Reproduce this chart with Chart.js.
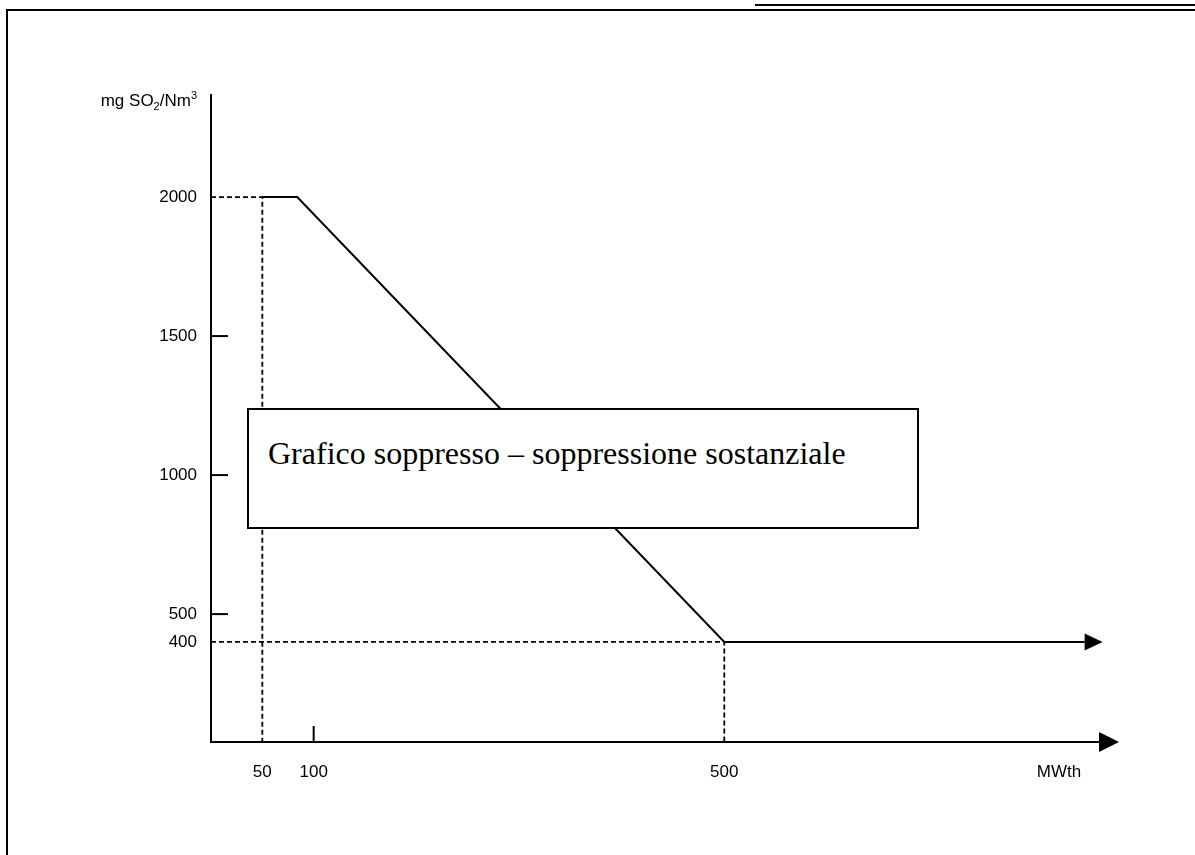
<!DOCTYPE html>
<html>
<head>
<meta charset="utf-8">
<script src="https://cdn.jsdelivr.net/npm/chart.js@4/dist/chart.umd.min.js"></script>
<style>
    html, body { margin: 0; padding: 0; background: #fff; }
    #wrap { position: relative; width: 1195px; height: 855px; overflow: hidden; }
    #chart { position: absolute; left: 0; top: 0; }
    .rule { position: absolute; background: #000; }
    #mask {
        position: absolute; left: 247px; top: 408px; width: 672px; height: 121px;
        box-sizing: border-box; border: 2px solid #000; background: #fff;
    }
    #mask span {
        position: absolute; left: 19px; top: 27px; white-space: nowrap;
        font-family: 'Liberation Serif', 'Times New Roman', serif; font-size: 32px; line-height: 32px; color: #000;
    }
</style>
</head>
<body>
<div id="wrap">
    <canvas id="chart" width="1195" height="855"></canvas>
    <div class="rule" style="left:6px; top:9px; width:2px; height:846px"></div>
    <div class="rule" style="left:6px; top:9px; width:1189px; height:2px"></div>
    <div class="rule" style="left:755px; top:4px; width:440px; height:2px"></div>
    <div id="mask"><span>Grafico soppresso – soppressione sostanziale</span></div>
</div>
<script>
// MWth -> mg SO2/Nm3
const limitX = [50, 84, 500, 851]
const limitY = [2000, 2000, 400, 400]

// dashed guide lines: capacity / level pairs
const guideCapacity = [50, 500]
const guideLevel = [2000, 400]

const xTicks = [50, 100, 500]
const yTicks = [400, 500, 1000, 1500, 2000]

const yTitle = ['mg SO', '2', '/Nm', '3']
const xTitle = 'MWth'

const font = "'Liberation Sans', Arial, sans-serif"

const datasets = [{
    data: limitX.map((x, i) => ({ x: x, y: limitY[i] })),
    borderColor: '#000',
    borderWidth: 2,
    pointRadius: 0
}]
guideCapacity.forEach((c, i) => {
    datasets.push({
        data: [{ x: 0, y: guideLevel[i] }, { x: c, y: guideLevel[i] }, { x: c, y: 0 }],
        borderColor: '#000',
        borderWidth: 1.8,
        borderDash: [5, 3],
        pointRadius: 0
    })
})

function arrow(ctx, x, y, len, h) {
    ctx.beginPath()
    ctx.moveTo(x, y - h / 2)
    ctx.lineTo(x + len, y)
    ctx.lineTo(x, y + h / 2)
    ctx.closePath()
    ctx.fill()
}

const extras = {
    id: 'extras',
    afterDatasetsDraw(chart) {
        const ctx = chart.ctx
        const area = chart.chartArea
        const xs = chart.scales.x
        const ys = chart.scales.y
        ctx.save()
        ctx.fillStyle = '#000'
        ctx.strokeStyle = '#000'
        ctx.lineWidth = 2

        // inward tick marks where no guide line passes
        yTicks.filter(v => !guideLevel.includes(v)).forEach(v => {
            const y = ys.getPixelForValue(v)
            ctx.beginPath(); ctx.moveTo(area.left, y); ctx.lineTo(area.left + 17, y); ctx.stroke()
        })
        xTicks.filter(v => !guideCapacity.includes(v)).forEach(v => {
            const x = xs.getPixelForValue(v)
            ctx.beginPath(); ctx.moveTo(x, area.bottom); ctx.lineTo(x, area.bottom - 16); ctx.stroke()
        })

        // arrow heads
        const pts = chart.getDatasetMeta(0).data
        const last = pts[pts.length - 1]
        arrow(ctx, last.x, last.y, 18, 17)
        arrow(ctx, area.right, area.bottom, 20, 20)

        // axis titles
        ctx.textBaseline = 'alphabetic'
        const big = '17px ' + font
        const small = '11px ' + font
        const parts = yTitle.map((t, i) => ({ t: t, f: i % 2 ? small : big, dy: i === 1 ? 4 : i === 3 ? -7 : 0 }))
        let w = 0
        parts.forEach(p => { ctx.font = p.f; w += ctx.measureText(p.t).width })
        let x = area.left - 14 - w
        const base = area.top + 11
        ctx.textAlign = 'left'
        parts.forEach(p => {
            ctx.font = p.f
            ctx.fillText(p.t, x, base + p.dy)
            x += ctx.measureText(p.t).width
        })

        ctx.font = big
        ctx.textAlign = 'center'
        ctx.textBaseline = 'middle'
        ctx.fillText(xTitle, area.right - 40, area.bottom + 30)
        ctx.restore()
    }
}

new Chart(document.getElementById('chart'), {
    type: 'line',
    data: { datasets: datasets },
    options: {
        responsive: false,
        animation: false,
        layout: { padding: { top: 95, right: 96, left: 0, bottom: 0 } },
        plugins: { legend: { display: false }, tooltip: { enabled: false } },
        elements: { line: { tension: 0 } },
        scales: {
            x: {
                type: 'linear',
                min: 0,
                max: 865,
                afterBuildTicks: s => { s.ticks = xTicks.map(v => ({ value: v })) },
                afterFit: s => { s.height = 113 },
                grid: { display: false, drawTicks: false },
                border: { display: true, color: '#000', width: 2 },
                ticks: { color: '#000', padding: 20, font: { family: font, size: 17 }, maxRotation: 0, callback: v => String(v) }
            },
            y: {
                type: 'linear',
                min: 40,
                max: 2367,
                afterBuildTicks: s => { s.ticks = yTicks.map(v => ({ value: v })) },
                afterFit: s => { s.width = 211 },
                grid: { display: false, drawTicks: false },
                border: { display: true, color: '#000', width: 2 },
                ticks: { color: '#000', padding: 14, font: { family: font, size: 17 }, callback: v => String(v) }
            }
        }
    },
    plugins: [extras]
})
</script>
</body>
</html>
